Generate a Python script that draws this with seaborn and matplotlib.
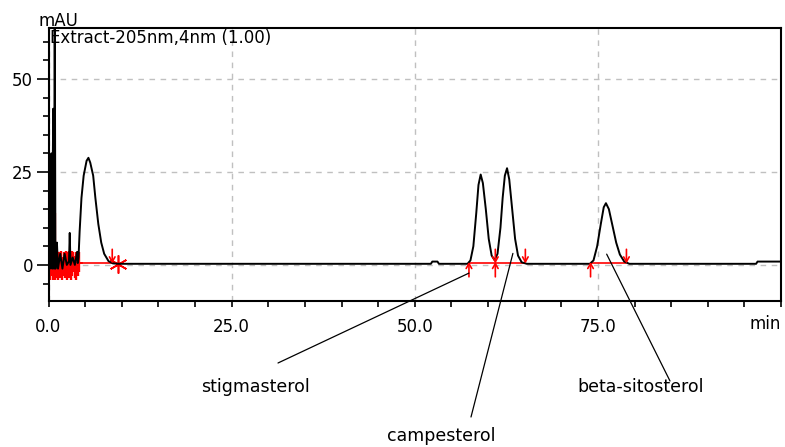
import numpy as np
import pandas as pd
import matplotlib
matplotlib.use("Agg")
import matplotlib.pyplot as plt
import seaborn as sns

# chromatogram trace (time in min, signal in mAU)
time_min = [0.0, 0.2, 0.3, 0.4, 0.5, 0.55, 0.65, 0.75, 0.85, 0.95, 1.05, 1.15, 1.3,
            1.6, 1.9, 2.2, 2.5, 2.8, 2.9, 3.0, 3.3, 3.6, 3.9, 4.0, 4.1, 4.25, 4.5,
            4.8, 5.2, 5.45, 5.7, 6.1, 6.4, 6.8, 7.2, 7.6, 8.2, 8.8, 9.6,
            52.2, 52.4, 53.1, 53.3,
            57.2, 57.6, 58.0, 58.4, 58.7, 59.0, 59.3, 59.7, 60.1, 60.5, 60.9, 61.3,
            61.7, 62.0, 62.3, 62.6, 62.9, 63.3, 63.7, 64.1, 64.6, 65.3,
            73.9, 74.4, 74.9, 75.4, 75.8, 76.1, 76.5, 77.0, 77.5, 78.0, 78.6, 79.3,
            96.6, 96.8, 100.0]
signal_mau = [0.3, -1, 5, 30, -1, 20, 42, -1, 70, -1, 3, 6, -1,
              3, -1, 3, 0, 1, 8.6, 0, 2, 0, 3.5, 0.5, 2, 9, 18,
              24, 28, 28.8, 27.5, 24, 18, 11, 6, 3, 1, 0.4, 0.3,
              0.3, 0.9, 0.9, 0.3,
              0.3, 1.2, 5, 14, 21.5, 24.3, 22, 15, 7, 2.5, 1.3, 3,
              10, 18, 24, 26, 23, 15, 7, 2.5, 0.7, 0.3,
              0.3, 1.2, 5, 11, 15.5, 16.6, 15, 10.5, 6, 2.8, 0.9, 0.3,
              0.3, 0.9, 0.9]

# red integration marks in the noisy start
noise_t = [0.25, 0.4, 0.55, 0.7, 0.85, 1.0, 1.15, 1.3, 1.45, 1.6, 1.75, 1.9,
           2.05, 2.2, 2.35, 2.5, 2.65, 2.8, 2.95, 3.1, 3.25, 3.4, 3.55, 3.7,
           3.85, 4.0, 4.15]
noise_lo = [-4, -3, -4, -2.5, -4, -3.5, -2, -4, -3, -3.5, -2.5, -4, -3,
            -3.5, -2, -4, -3, -3.5, -2.5, -4, -3, -2, -3.5, -4, -2.5, -3, -2]
noise_hi = [3.5, 2.5, 3.8, 3, 2, 3.5, 3.8, 2.5, 3.5, 3, 3.8, 2, 3.5,
            3, 3.8, 2.5, 3.5, 3.8, 2.5, 3, 3.8, 3.5, 2.5, 3.5, 3, 2.5, 3.5]
red_spike_t = 0.9
red_spike_top = 14
baselines = [(0.2, 8.7), (57.4, 65.1), (74.0, 78.9)]
peak_starts = [57.4, 61.0, 74.0]
peak_ends = [8.7, 61.0, 65.1, 78.9]
star_t = [9.5]

# peak labels
compounds = ["stigmasterol", "campesterol", "beta-sitosterol"]
label_anchor = [(57.4, -2.2), (63.4, 3.1), (76.2, 2.9)]

df = pd.DataFrame({"time": time_min, "mAU": signal_mau})

sns.set_style("white")
plt.rcParams["font.family"] = ["DejaVu Sans"]
plt.rcParams["text.color"] = "black"
plt.rcParams["xtick.color"] = "black"
plt.rcParams["ytick.color"] = "black"

fig = plt.figure(figsize=(7.85, 4.47), dpi=100)
ax = fig.add_axes([48.5 / 785, 146 / 447, 732.5 / 785, 273 / 447])

# red stuff under the trace
ax.vlines(noise_t, noise_lo, noise_hi, color="red", lw=1.7)
ax.plot(noise_t, [0.4] * len(noise_t), color="red", lw=1.2, marker="_", ms=6, mew=1.2)
ax.vlines([red_spike_t], 0, red_spike_top, color="red", lw=1.6)
for a, b in baselines:
    ax.plot([a, b], [0.6, 0.6], color="red", lw=1.2)
for t in peak_starts:
    ax.annotate("", xy=(t, 0.8), xytext=(t, -3.2),
                arrowprops=dict(arrowstyle="->,head_length=0.35,head_width=0.2",
                                color="red", lw=1.2, shrinkA=0, shrinkB=0))
for t in peak_ends:
    ax.annotate("", xy=(t, 0.4), xytext=(t, 4.2),
                arrowprops=dict(arrowstyle="->,head_length=0.35,head_width=0.2",
                                color="red", lw=1.2, shrinkA=0, shrinkB=0))
ax.plot(star_t, [0.3], marker=(6, 2, 0), ms=13, mew=1.2, color="red", ls="none")

sns.lineplot(data=df, x="time", y="mAU", color="black", lw=1.4,
             estimator=None, sort=False, ax=ax)

ax.set_xlim(0, 100)
ax.set_ylim(-9.7, 63.7)
ax.set_xticks([0, 25, 50, 75])
ax.set_xticks(np.arange(0, 101, 5), minor=True)
ax.set_yticks([0, 25, 50])
ax.set_yticks(np.arange(-5, 61, 5), minor=True)
ax.set_xticklabels(["0.0", "25.0", "50.0", "75.0"])
ax.set_yticklabels(["0", "25", "50"])
ax.set_xlabel("")
ax.set_ylabel("")
ax.grid(True, which="major", color="#c0c0c0", ls=(0, (4, 4)), lw=1)
ax.tick_params(axis="x", which="both", direction="out", length=4, width=1.2,
               pad=8, labelsize=12, bottom=True)
ax.tick_params(axis="y", which="major", direction="out", length=9, width=1.2,
               pad=2, labelsize=12, left=True)
ax.tick_params(axis="y", which="minor", direction="out", length=4.5, width=1.2, left=True)
for s in ax.spines.values():
    s.set_color("black")
    s.set_linewidth(1.5)

fig.text(38 / 785, 421 / 447, "mAU", fontsize=12, va="baseline", ha="left")
fig.text(781 / 785, 123 / 447, "min", fontsize=12, va="center", ha="right")
fig.text(50 / 785, 418 / 447, "Extract-205nm,4nm (1.00)", fontsize=12, va="top", ha="left")

label_pos = [(255, 60), (441, 11), (641, 60)]
line_end = [(278, 84), (471, 30), (670, 66)]
for name, anchor, lp, le in zip(compounds, label_anchor, label_pos, line_end):
    ax.annotate("", xy=anchor, xytext=le, textcoords="figure pixels",
                annotation_clip=False,
                arrowprops=dict(arrowstyle="-", color="black", lw=0.9,
                                shrinkA=0, shrinkB=0))
    fig.text(lp[0] / 785, lp[1] / 447, name, fontsize=12.5, ha="center", va="center")

fig.savefig("out.png", dpi=100)
